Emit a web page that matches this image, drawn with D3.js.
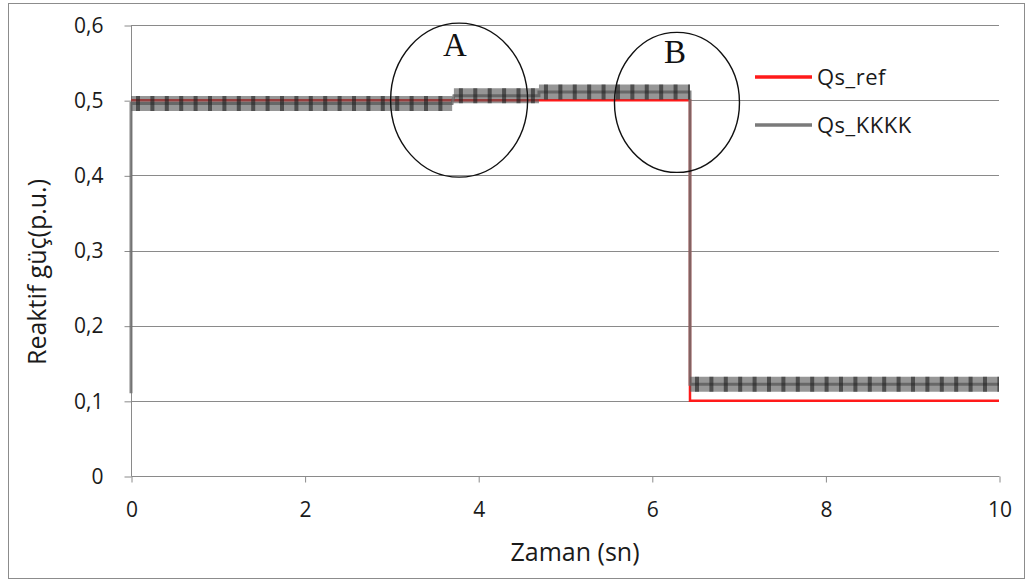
<!DOCTYPE html>
<html><head><meta charset="utf-8">
<script src="https://cdn.jsdelivr.net/npm/d3@7"></script>
<style>body{margin:0;background:#fff;} text{font-family:"Open Sans","Liberation Sans",sans-serif;} text.cl{font-family:"Liberation Serif","DejaVu Serif",serif;}</style>
</head><body>
<svg id="c" width="1033" height="584"></svg>
<script>
const refTime = [0, 6.44, 6.44, 10];
const refVal  = [0.5, 0.5, 0.1, 0.1];
const kkkkTime = [0, 0, 3.7, 3.72, 4.7, 4.7, 6.44, 6.44, 10];
const kkkkVal  = [0.11, 0.4955, 0.4955, 0.506, 0.506, 0.511, 0.511, 0.122, 0.122];
const xTicks = [0, 2, 4, 6, 8, 10];
const yTicks = [0, 0.1, 0.2, 0.3, 0.4, 0.5, 0.6];
const seriesNames = ["Qs_ref", "Qs_KKKK"];
const circleLabels = ["A", "B"];
const circleCenters = [[3.78, 0.5], [6.29, 0.497]];

const svg = d3.select("#c");
const x = d3.scaleLinear().domain([0, 10]).range([131, 999]);
const y = d3.scaleLinear().domain([0, 0.6]).range([476, 25]);
const fmt = d => d === 0 ? "0" : d3.format(".1f")(d).replace(".", ",");

svg.append("rect").attr("x", 8.5).attr("y", 3.5).attr("width", 1016).attr("height", 575)
  .attr("fill", "#fff").attr("stroke", "#8c8c8c");

// grid
svg.append("g").selectAll("line").data(yTicks.filter(d => d > 0)).join("line")
  .attr("x1", x(0)).attr("x2", x(10)).attr("y1", d => Math.round(y(d)) + 0.5).attr("y2", d => Math.round(y(d)) + 0.5)
  .attr("stroke", "#8a8a8a").attr("stroke-width", 1);

// y axis
const ya = svg.append("g").attr("transform", `translate(${x(0)+0.5},0.5)`)
  .call(d3.axisLeft(y).tickValues(yTicks).tickFormat(fmt).tickSize(7).tickPadding(21));
ya.select(".domain").attr("stroke", "#8a8a8a").attr("d", `M0,${y(0)}V${y(0.6)}`);
ya.selectAll(".tick line").attr("stroke", "#8a8a8a");
ya.selectAll(".tick text").attr("font-size", 21).attr("fill", "#1a1a1a");

// x axis
const xa = svg.append("g").attr("transform", `translate(0.5,${Math.round(y(0))+0.5})`)
  .call(d3.axisBottom(x).tickValues(xTicks).tickFormat(d => d).tickSize(6).tickPadding(20));
xa.select(".domain").attr("stroke", "#8a8a8a").attr("d", `M${x(0)},0H${x(10)}`);
xa.selectAll(".tick line").attr("stroke", "#8a8a8a");
xa.selectAll(".tick text").attr("font-size", 21).attr("fill", "#1a1a1a");

// titles
svg.append("text").attr("x", 575).attr("y", 561).attr("text-anchor", "middle")
  .attr("font-size", 25).attr("fill", "#1a1a1a").text("Zaman (sn)");
svg.append("text").attr("transform", "translate(46,272) rotate(-90)").attr("text-anchor", "middle")
  .attr("font-size", 25).attr("fill", "#1a1a1a").text("Reaktif güç(p.u.)");

const line = d3.line().x(d => x(d[0])).y(d => y(d[1]));
const refPts = refTime.map((t, i) => [t, refVal[i]]);
const kPts = kkkkTime.map((t, i) => [t, kkkkVal[i]]);

// red reference
svg.append("path").attr("d", line(refPts)).attr("fill", "none").attr("stroke", "#ff1a1a").attr("stroke-width", 2.5);

// gray thin path
svg.append("path").attr("d", line(kPts)).attr("fill", "none").attr("stroke", "#6e6e6e").attr("stroke-width", 3).attr("opacity", 0.85);

// thick band on horizontal segments
const segs = [];
for (let i = 0; i < kPts.length - 1; i++) {
  if (kPts[i][1] === kPts[i+1][1] && kPts[i+1][0] > kPts[i][0]) segs.push([kPts[i], kPts[i+1]]);
}
const band = svg.append("g");
band.selectAll("path.b").data(segs).join("path").attr("class", "b")
  .attr("d", d => line(d)).attr("fill", "none").attr("stroke", "#555").attr("stroke-width", 15).attr("opacity", 0.62);
band.selectAll("path.s").data(segs).join("path").attr("class", "s")
  .attr("d", d => line(d)).attr("fill", "none").attr("stroke", "#1e1e1e").attr("stroke-width", 15)
  .attr("stroke-dasharray", "4 10.4").attr("stroke-dashoffset", -5).attr("opacity", 0.6);

// circles
const rx = [68.5, 62.5], ry = [77, 70];
svg.selectAll("ellipse").data(circleCenters).join("ellipse")
  .attr("cx", d => x(d[0])).attr("cy", d => y(d[1])).attr("rx", (d, i) => rx[i]).attr("ry", (d, i) => ry[i])
  .attr("fill", "none").attr("stroke", "#111").attr("stroke-width", 1.4);
svg.selectAll("text.cl").data(circleLabels).join("text").attr("class", "cl")
  .attr("x", (d, i) => [455, 675][i]).attr("y", (d, i) => [56, 63][i]).attr("text-anchor", "middle")
  .attr("font-size", 33).attr("fill", "#111").text(d => d);

// legend
const lg = svg.append("g");
const lColors = ["#ff1a1a", "#7a7a7a"];
const lY = [77, 125];
lg.selectAll("line").data(seriesNames).join("line")
  .attr("x1", 755).attr("x2", 812).attr("y1", (d, i) => lY[i]).attr("y2", (d, i) => lY[i])
  .attr("stroke", (d, i) => lColors[i]).attr("stroke-width", 3.5);
lg.selectAll("text").data(seriesNames).join("text")
  .attr("x", 817).attr("y", (d, i) => lY[i] + 8).attr("font-size", 22).attr("letter-spacing", 0.5)
  .attr("fill", "#1a1a1a").text(d => d);
</script>
</body></html>
